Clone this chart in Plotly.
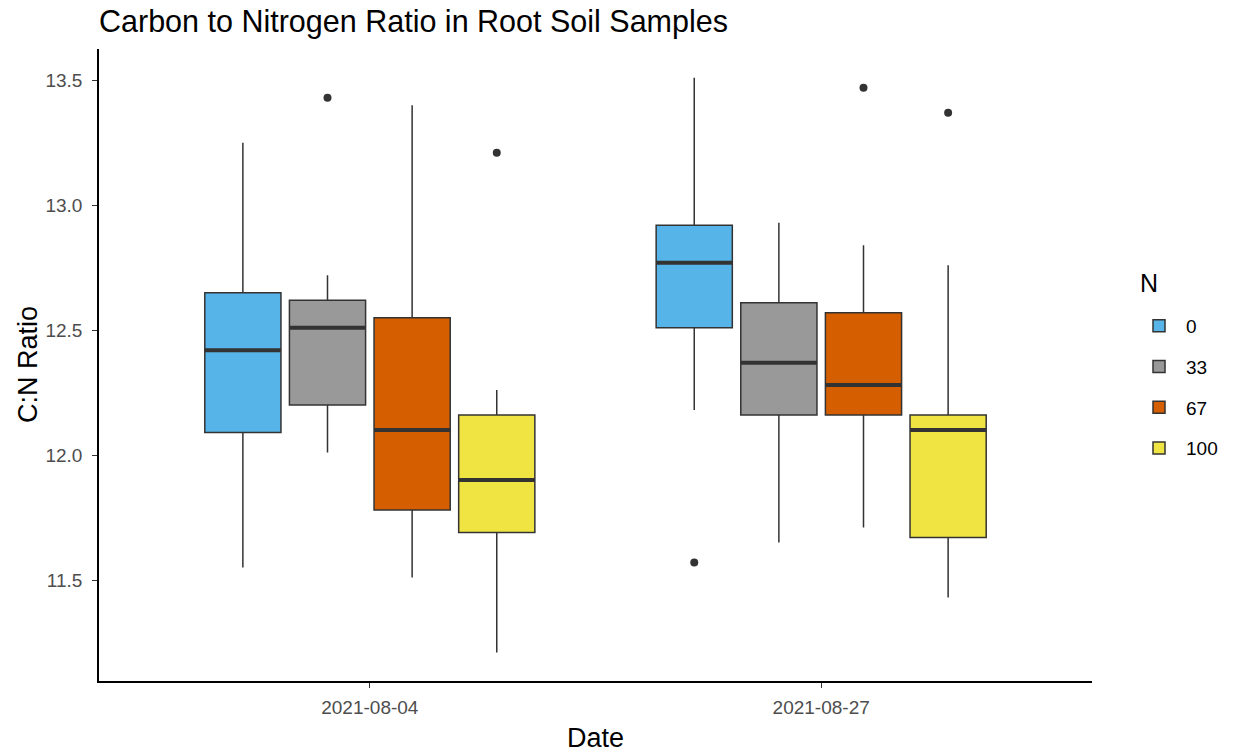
import plotly.graph_objects as go

# Sampling dates and nitrogen treatment levels
dates = ["2021-08-04", "2021-08-27"]
n_levels = ["0", "33", "67", "100"]
fill_colors = ["#56B4E9", "#999999", "#D55E00", "#F0E442"]

# Box statistics per N level (one value per date)
whisker_low = [[11.55, 12.18], [12.01, 11.65], [11.51, 11.71], [11.21, 11.43]]
q1 = [[12.09, 12.51], [12.20, 12.16], [11.78, 12.16], [11.69, 11.67]]
median = [[12.42, 12.77], [12.51, 12.37], [12.10, 12.28], [11.90, 12.10]]
q3 = [[12.65, 12.92], [12.62, 12.61], [12.55, 12.57], [12.16, 12.16]]
whisker_high = [[13.25, 13.51], [12.72, 12.93], [13.40, 12.84], [12.26, 12.76]]

# Outlying samples per N level
outlier_dates = [["2021-08-27"], ["2021-08-04"], ["2021-08-27"], ["2021-08-04", "2021-08-27"]]
outlier_values = [[11.57], [13.43], [13.47], [13.21, 13.37]]

FONT = "Liberation Sans, Arial, sans-serif"
EDGE = "#333333"

fig = go.Figure()

for i, lvl in enumerate(n_levels):
    fig.add_trace(go.Box(
        x=dates, q1=q1[i], median=median[i], q3=q3[i],
        lowerfence=whisker_low[i], upperfence=whisker_high[i],
        name=lvl, offsetgroup=lvl, legendgroup=lvl,
        fillcolor=fill_colors[i], line=dict(color=EDGE, width=1.5),
        whiskerwidth=0, boxpoints=False,
    ))
    # thicker median bar drawn on top of each box
    fig.add_trace(go.Box(
        x=dates, q1=median[i], median=median[i], q3=median[i],
        lowerfence=median[i], upperfence=median[i],
        name=lvl, offsetgroup=lvl, legendgroup=lvl, showlegend=False,
        fillcolor="rgba(0,0,0,0)", line=dict(color=EDGE, width=4),
        whiskerwidth=0, boxpoints=False, hoverinfo="skip",
    ))
    fig.add_trace(go.Scatter(
        x=outlier_dates[i], y=outlier_values[i], mode="markers",
        name=lvl, offsetgroup=lvl, legendgroup=lvl, showlegend=False,
        marker=dict(color=EDGE, size=8),
    ))

fig.update_layout(
    width=1239, height=755,
    margin=dict(l=99, r=147, t=49, b=74),
    paper_bgcolor="white", plot_bgcolor="white",
    boxmode="group", boxgap=0.25, boxgroupgap=0.1,
    scattermode="group", scattergap=0.25,
    font=dict(family=FONT, color="black"),
    title=dict(
        text="Carbon to Nitrogen Ratio in Root Soil Samples",
        x=0, xref="paper", xanchor="left",
        y=1 - 21 / 755, yref="container", yanchor="middle",
        font=dict(size=30.5, color="black", family=FONT),
    ),
    xaxis=dict(
        type="category", range=[-0.6, 1.6],
        showline=True, linecolor="black", linewidth=1.5,
        ticks="outside", ticklen=5, tickcolor=EDGE, tickwidth=1.2,
        tickfont=dict(size=19, color="#4D4D4D", family=FONT),
        ticklabelstandoff=3,
        showgrid=False, zeroline=False,
    ),
    yaxis=dict(
        range=[11.096, 13.625],
        tickvals=[11.5, 12.0, 12.5, 13.0, 13.5],
        ticktext=["11.5", "12.0", "12.5", "13.0", "13.5"],
        showline=True, linecolor="black", linewidth=1.5,
        ticks="outside", ticklen=5, tickcolor=EDGE, tickwidth=1.2,
        tickfont=dict(size=19, color="#4D4D4D", family=FONT),
        ticklabelstandoff=6,
        showgrid=False, zeroline=False,
    ),
    legend=dict(
        x=(1132 - 99) / 993, xanchor="left",
        y=(681 - 307) / 632, yanchor="top",
        font=dict(size=19, color="black", family=FONT),
        tracegroupgap=13, itemwidth=44, bgcolor="rgba(0,0,0,0)",
    ),
    showlegend=True,
    annotations=[
        # legend heading
        dict(text="N", x=(1138 - 99) / 993, xref="paper", xanchor="left",
             y=(681 - 283) / 632, yref="paper", yanchor="middle",
             showarrow=False, font=dict(size=25, color="black", family=FONT)),
        dict(text="C:N Ratio", textangle=-90, x=(28 - 99) / 993, xref="paper",
             xanchor="center", y=0.5, yref="paper", yanchor="middle",
             showarrow=False, font=dict(size=27, color="black", family=FONT)),
        dict(text="Date", x=0.5, xref="paper", xanchor="center",
             y=-(738 - 681) / 632, yref="paper", yanchor="middle",
             showarrow=False, font=dict(size=27, color="black", family=FONT)),
    ],
)

fig.write_html("out.html")
